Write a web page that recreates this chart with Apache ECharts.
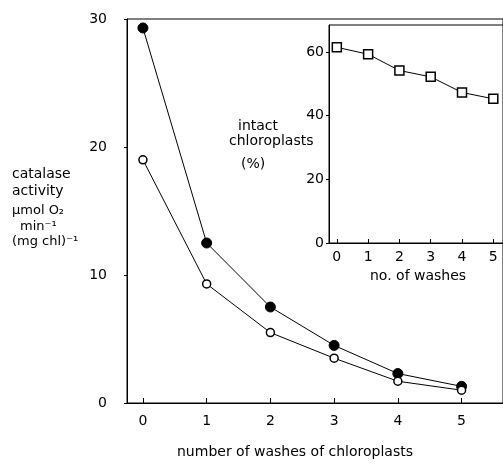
<!DOCTYPE html>
<html>
<head>
<meta charset="utf-8">
<script src="https://cdn.jsdelivr.net/npm/echarts@6/dist/echarts.min.js"></script>
<style>
  html, body { margin: 0; padding: 0; background: #fff; }
  #chart { width: 503px; height: 469px; }
</style>
</head>
<body>
<div id="chart"></div>
<script>
// washes of chloroplasts
const washes = [0, 1, 2, 3, 4, 5];
// catalase activity, filled and open circles
const activityFilled = [29.3, 12.5, 7.5, 4.5, 2.3, 1.3];
const activityOpen = [19.0, 9.3, 5.5, 3.5, 1.7, 1.0];
// inset: intact chloroplasts (%)
const intactPct = [61.5, 59.3, 54.2, 52.2, 47.3, 45.3];
const mainYTicks = [0, 10, 20, 30];
const insetYTicks = [0, 20, 40, 60];

const font = 'DejaVu Sans';
const pair = (xs, ys) => xs.map((x, i) => [x, ys[i]]);

const chart = echarts.init(document.getElementById('chart'));

const label = (text, left, top, size) => ({
  type: 'text', left: left, top: top, z: 10,
  style: { text: text, font: size + 'px ' + font, fill: '#000' }
});

const option = {
  backgroundColor: '#fff',
  animation: false,
  textStyle: { fontFamily: font, color: '#000' },
  grid: [
    { left: 127, top: 19, right: -5, bottom: 66, show: true, borderColor: '#000', borderWidth: 1 },
    { left: 329, top: 25, right: -5, bottom: 226, show: true, borderColor: '#000', borderWidth: 1, backgroundColor: '#fff', z: 5 }
  ],
  xAxis: [
    {
      gridIndex: 0, type: 'value', min: -0.25, max: 5.65,
      splitLine: { show: false },
      axisLine: { onZero: false, lineStyle: { color: '#000', width: 1 } },
      axisTick: { inside: true, length: 5, customValues: washes, lineStyle: { color: '#000' } },
      axisLabel: { customValues: washes, margin: 11, fontSize: 14, color: '#000', fontFamily: font }
    },
    {
      gridIndex: 1, type: 'value', min: -0.25, max: 5.31,
      splitLine: { show: false },
      axisLine: { onZero: false, lineStyle: { color: '#000', width: 1 } },
      axisTick: { inside: true, length: 4, customValues: washes, lineStyle: { color: '#000' } },
      axisLabel: { customValues: washes, margin: 7, fontSize: 14, color: '#000', fontFamily: font },
      z: 6
    }
  ],
  yAxis: [
    {
      gridIndex: 0, type: 'value', min: 0, max: 30,
      splitLine: { show: false },
      axisLine: { show: true, onZero: false, lineStyle: { color: '#000', width: 1 } },
      axisTick: { show: true, length: 3, customValues: mainYTicks, lineStyle: { color: '#000' } },
      axisLabel: { customValues: mainYTicks, margin: 20, fontSize: 14, color: '#000', fontFamily: font }
    },
    {
      gridIndex: 1, type: 'value', min: 0, max: 68.5,
      splitLine: { show: false },
      axisLine: { show: true, onZero: false, lineStyle: { color: '#000', width: 1 } },
      axisTick: { show: true, length: 3, customValues: insetYTicks, lineStyle: { color: '#000' } },
      axisLabel: { customValues: insetYTicks, margin: 5, fontSize: 14, color: '#000', fontFamily: font },
      z: 6
    }
  ],
  series: [
    {
      type: 'line', xAxisIndex: 0, yAxisIndex: 0,
      data: pair(washes, activityFilled),
      symbol: 'circle', symbolSize: 10,
      itemStyle: { color: '#000', borderColor: '#000' },
      lineStyle: { color: '#000', width: 1 }
    },
    {
      type: 'line', xAxisIndex: 0, yAxisIndex: 0,
      data: pair(washes, activityOpen),
      symbol: 'circle', symbolSize: 8,
      itemStyle: { color: '#fff', borderColor: '#000', borderWidth: 1.5 },
      lineStyle: { color: '#000', width: 1 }
    },
    {
      type: 'line', xAxisIndex: 1, yAxisIndex: 1,
      data: pair(washes, intactPct),
      symbol: 'rect', symbolSize: 9,
      itemStyle: { color: '#fff', borderColor: '#000', borderWidth: 1.5 },
      lineStyle: { color: '#000', width: 1 },
      z: 7
    }
  ],
  graphic: [
    label('catalase', 12, 167, 14),
    label('activity', 12, 184, 14),
    label('µmol O₂', 12, 204, 13),
    label('min⁻¹', 20, 220, 13),
    label('(mg chl)⁻¹', 12, 235, 13),
    label('intact', 238, 119, 14),
    label('chloroplasts', 229, 134, 14),
    label('(%)', 241, 157, 14),
    label('no. of washes', 370, 269, 14),
    label('number of washes of chloroplasts', 177, 445, 14)
  ]
};

chart.setOption(option);
window.addEventListener('resize', () => chart.resize());
</script>
</body>
</html>
